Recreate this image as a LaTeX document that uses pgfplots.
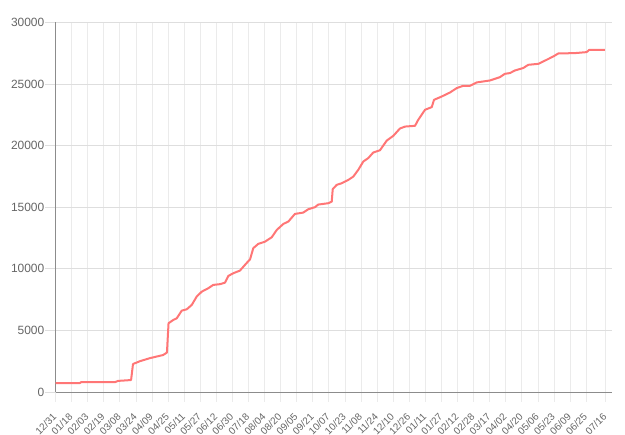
\documentclass[border=0pt]{standalone}
\usepackage{pgfplots}
\pgfplotsset{compat=1.18}
\usepackage{fontspec}
\setmainfont{Liberation Sans}
\definecolor{linec}{RGB}{255,118,118}
\definecolor{tickc}{RGB}{102,102,102}
\begin{document}
\begin{tikzpicture}
\path[use as bounding box] (-55.5bp,-43bp) rectangle (569.5bp,392bp);
\begin{axis}[
  scale only axis, width=556.2bp, height=369.7bp,
  xmin=0, xmax=34.59, ymin=0, ymax=30000,
  axis x line*=bottom, axis y line*=left,
  axis line style={draw=black!45, line width=0.8bp},
  xtick={0,1,2,3,4,5,6,7,8,9,10,11,12,13,14,15,16,17,18,19,20,21,22,23,24,25,26,27,28,29,30,31,32,33,34.21},
  xticklabels={12/31,01/18,02/03,02/19,03/08,03/24,04/09,04/25,05/11,05/27,06/12,06/30,07/18,08/04,08/20,09/05,09/21,10/07,10/23,11/08,11/24,12/10,12/26,01/11,01/27,02/12,02/28,03/17,04/02,04/20,05/06,05/23,06/09,06/25,07/16},
  ytick={0,5000,10000,15000,20000,25000,30000},
  scaled y ticks=false,
  /pgf/number format/1000 sep={},
  /pgf/number format/assume math mode=true,
  grid=major,
  x grid style={draw=black!8, line width=0.8bp},
  y grid style={draw=black!13, line width=0.8bp},
  tick align=outside,
  major tick length=10bp,
  x tick style={draw=black!8, line width=0.8bp},
  y tick style={draw=black!13, line width=0.8bp},
  xticklabel style={font=\fontsize{10}{12}\selectfont, text=tickc, rotate=45, anchor=east, inner sep=1bp, xshift=-8.5bp, yshift=-8.5bp},
  yticklabel style={font=\fontsize{12}{14}\selectfont, text=tickc, anchor=east, inner sep=1bp},
]
\addplot[linec, line width=2bp, line join=round] coordinates {
(0,730) (1.52,730) (1.59,800) (3.70,800) (3.89,900) (4.70,970)
(4.82,2270) (5.25,2500) (5.88,2750) (6.69,3000) (6.93,3200)
(7.03,5580) (7.33,5850) (7.54,5980) (7.85,6600) (8.16,6710)
(8.47,7060) (8.78,7740) (9.09,8140) (9.50,8420) (9.81,8690)
(10.23,8750) (10.54,8870) (10.75,9420) (11.06,9640) (11.47,9850)
(11.78,10310) (12.10,10770) (12.30,11670) (12.61,12020) (13.03,12200)
(13.45,12560) (13.76,13150) (14.17,13640) (14.48,13830) (14.89,14450)
(15.41,14560) (15.72,14830) (16.14,15000) (16.34,15210) (16.97,15320)
(17.18,15450) (17.24,16460) (17.49,16810) (17.80,16940) (18.21,17210)
(18.52,17480) (18.83,18030) (19.14,18700) (19.45,18980) (19.76,19430)
(20.18,19620) (20.60,20400) (21.01,20790) (21.42,21380) (21.74,21540)
(22.36,21600) (22.56,22090) (22.98,22900) (23.40,23120) (23.54,23710)
(24.02,23980) (24.53,24300) (24.95,24660) (25.36,24850) (25.78,24850)
(26.19,25120) (27.02,25280) (27.64,25550) (27.95,25820) (28.26,25880)
(28.57,26090) (29.09,26290) (29.40,26550) (30.03,26630) (30.55,26960)
(30.96,27230) (31.27,27470) (32.31,27500) (33.03,27580) (33.20,27770)
(34.17,27770)
};
\end{axis}
\end{tikzpicture}
\end{document}
